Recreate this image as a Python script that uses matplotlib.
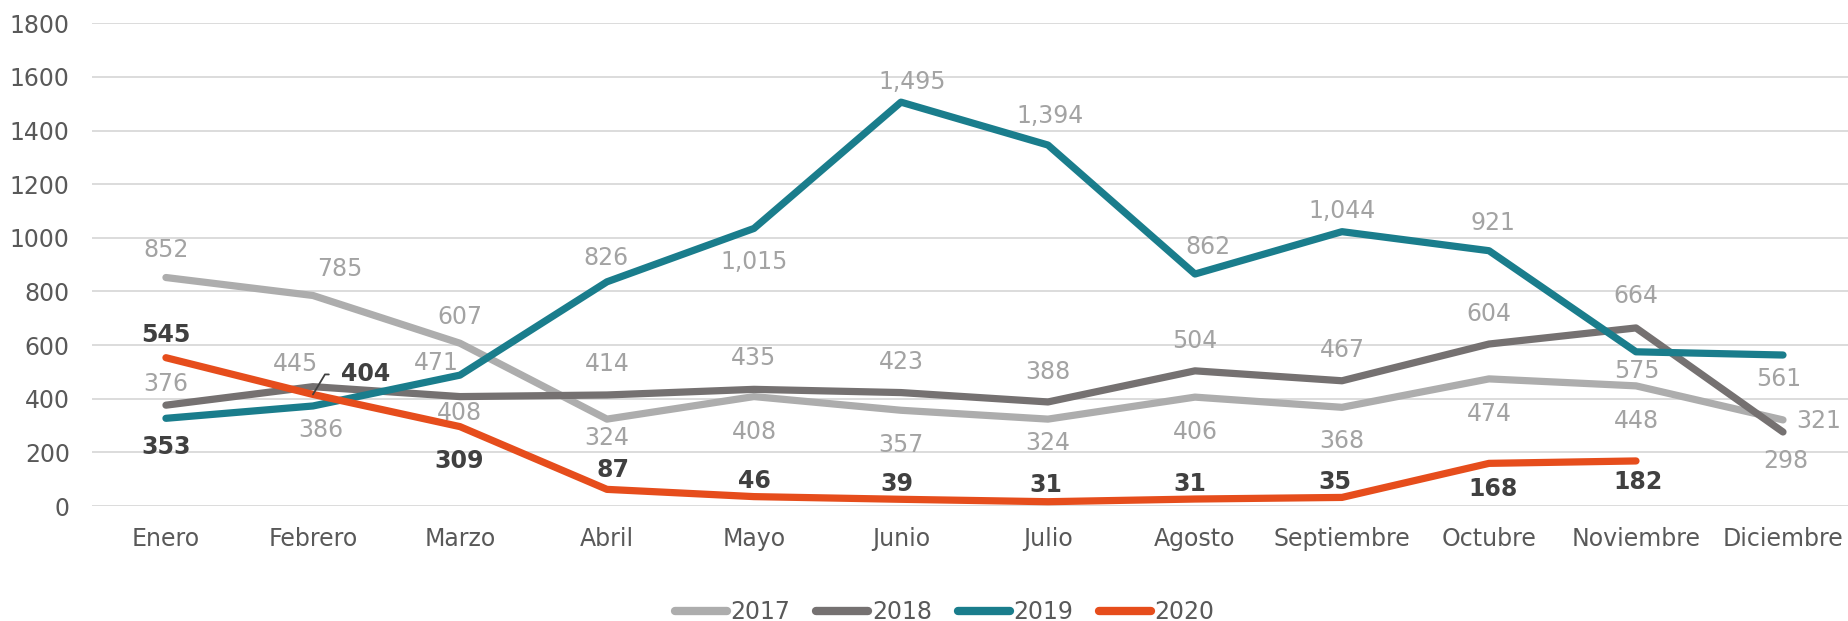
import numpy as np
import matplotlib
matplotlib.use('Agg')
import matplotlib.pyplot as plt
from matplotlib.lines import Line2D

meses = ['Enero', 'Febrero', 'Marzo', 'Abril', 'Mayo', 'Junio', 'Julio',
         'Agosto', 'Septiembre', 'Octubre', 'Noviembre', 'Diciembre']

# values as drawn by the lines
v2017 = [852, 785, 607, 324, 408, 357, 324, 406, 368, 474, 448, 321]
v2018 = [376, 445, 408, 414, 435, 423, 388, 504, 467, 604, 664, 276]
v2019 = [327, 373, 488, 836, 1035, 1506, 1346, 865, 1023, 952, 575, 563]
v2020 = [553, 416, 296, 62, 35, 25, 16, 26, 32, 159, 168]

# numbers printed on the chart
lab2017 = ['852', '785', '607', '324', '408', '357', '324', '406', '368', '474', '448', '321']
lab2018 = ['376', '445', '408', '414', '435', '423', '388', '504', '467', '604', '664', '298']
lab2019 = ['353', '386', '471', '826', '1,015', '1,495', '1,394', '862', '1,044', '921', '575', '561']
lab2020 = ['545', '404', '309', '87', '46', '39', '31', '31', '35', '168', '182']

# label offsets from the point, pixels (x right, y up)
off2017 = [(0, 29), (27, 27), (0, 27), (0, -18), (0, -34), (0, -34), (0, -23),
           (0, -34), (0, -33), (0, -34), (0, -34), (36, 0)]
off2018 = [(0, 22), (-17, 24), (-1, -15), (0, 32), (0, 32), (0, 32), (0, 31),
           (0, 31), (0, 32), (0, 31), (0, 33), (3, -28)]
off2019 = [(0, -28), (8, -23), (-24, 13), (-1, 25), (0, -33), (11, 21), (2, 30),
           (13, 28), (0, 22), (4, 29), (1, -18), (-4, -23)]
off2020 = [(0, 24), (53, 21), (-1, -33), (6, 20), (0, 17), (-4, 16), (-2, 18),
           (-5, 16), (-7, 16), (4, -25), (2, -20)]

series = [
    ('2017', v2017, lab2017, off2017, '#adadad'),
    ('2018', v2018, lab2018, off2018, '#757171'),
    ('2019', v2019, lab2019, off2019, '#1a7d8c'),
    ('2020', v2020, lab2020, off2020, '#e64d1c'),
]
dark_labels = {('2019', 0)}

FS = 17
LW = 5.2
GRAY_TXT = '#a3a3a3'
DARK_TXT = '#404040'
TICK_TXT = '#595959'

fig = plt.figure(figsize=(18.49, 6.21), dpi=100)
ax = fig.add_axes([92 / 1849, 115 / 621, 1757 / 1849, 482.7 / 621])

for name, vals, labs, offs, col in series:
    x = np.arange(len(vals))
    ax.plot(x, vals, color=col, lw=LW, solid_capstyle='round',
            solid_joinstyle='round', zorder=3)
    for i, (v, t, (dx, dy)) in enumerate(zip(vals, labs, offs)):
        bold = name == '2020' or (name, i) in dark_labels
        kw = dict(xy=(i, v), xytext=(dx, dy - 8), textcoords='offset pixels',
                  ha='center', va='baseline', fontsize=FS,
                  color=DARK_TXT if bold else GRAY_TXT,
                  fontweight='bold' if bold else 'normal', zorder=5)
        if name == '2020' and i == 1:
            kw['arrowprops'] = dict(arrowstyle='-', color=DARK_TXT, lw=1.3,
                                    connectionstyle='angle,angleA=0,angleB=59,rad=0',
                                    relpos=(0, 0.5), shrinkA=7, shrinkB=0)
        ax.annotate(t, **kw)

ax.set_xlim(-0.503, 11.449)
ax.set_ylim(0, 1800)
ax.set_yticks(np.arange(0, 1801, 200))
ax.set_xticks(np.arange(len(meses)))
ax.set_xticklabels(meses)
ax.yaxis.grid(True, color='#d9d9d9', lw=1.3)
ax.set_axisbelow(True)
for s in ax.spines.values():
    s.set_visible(False)
ax.tick_params(axis='both', length=0, labelsize=FS, colors=TICK_TXT)
ax.tick_params(axis='y', pad=16)
ax.tick_params(axis='x', pad=15)

handles = [Line2D([], [], color=c, lw=LW + 0.8, solid_capstyle='round')
           for _, _, _, _, c in series]
leg = ax.legend(handles, [s[0] for s in series], loc='center',
                bbox_to_anchor=(0.511, 9 / 621), bbox_transform=fig.transFigure,
                ncol=4, frameon=False, fontsize=FS, handlelength=2.2,
                handletextpad=0.15, columnspacing=1.1, borderpad=0, borderaxespad=0)
for t in leg.get_texts():
    t.set_color(TICK_TXT)

fig.savefig('out.png', dpi=100)
